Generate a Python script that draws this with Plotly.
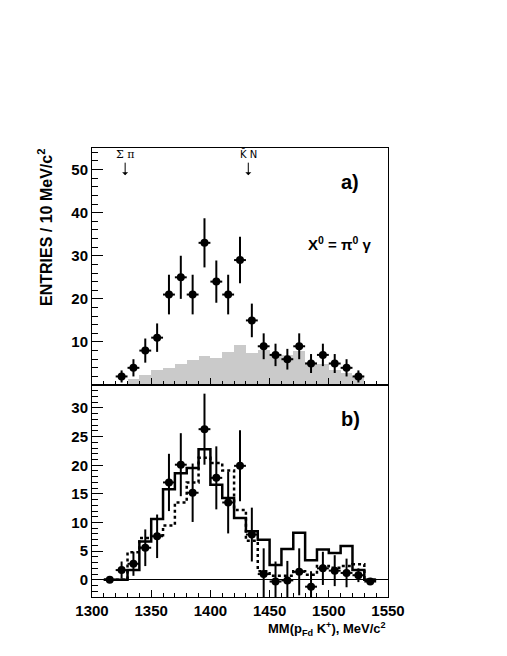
import plotly.graph_objects as go

# ---- panel a) : X0 = pi0 gamma ----
a_x = [1325, 1335, 1345, 1355, 1365, 1375, 1385, 1395, 1405, 1415, 1425,
       1435, 1445, 1455, 1465, 1475, 1485, 1495, 1505, 1515, 1525]
a_y = [2, 4, 8, 11, 21, 25, 21, 33, 24, 21, 29,
       15, 9, 7, 6, 9, 5, 7, 5, 4, 2]
a_err = [1.4, 2.0, 2.8, 3.3, 4.6, 5.0, 4.6, 5.7, 4.9, 4.6, 5.4,
         3.9, 3.0, 2.6, 2.4, 3.0, 2.2, 2.6, 2.2, 2.0, 1.4]

# gray background histogram, 10 MeV bins
bg_x = [1335, 1345, 1355, 1365, 1375, 1385, 1395, 1405, 1415, 1425,
        1435, 1445, 1455, 1465, 1475, 1485, 1495, 1505, 1515, 1525]
bg_y = [1.3, 2.3, 3.5, 4.0, 5.0, 5.8, 6.7, 6.3, 7.6, 9.2,
        7.4, 8.2, 7.0, 7.0, 7.8, 5.4, 5.0, 3.6, 2.9, 1.9]

# ---- panel b) ----
b_x = [1315, 1325, 1335, 1345, 1355, 1365, 1375, 1385, 1395, 1405, 1415, 1425,
       1435, 1445, 1455, 1465, 1475, 1485, 1495, 1505, 1515, 1525, 1535]
b_y = [0.0, 1.7, 2.8, 5.6, 7.6, 17.0, 20.1, 15.2, 26.3, 17.8, 13.5, 19.9,
       7.9, 1.0, -0.3, -0.1, 1.4, -1.2, 2.0, 1.6, 1.2, 0.8, -0.3]
b_err = [0.0, 1.5, 2.1, 3.2, 3.8, 5.0, 5.5, 5.1, 6.2, 5.5, 5.4, 6.2,
         4.7, 4.5, 3.5, 3.4, 4.1, 2.7, 2.9, 2.7, 2.5, 1.2, 0.3]

# histograms from 1310 to 1540 in 10 MeV bins
hist_start = 1310
solid_y = [0, 0, 1.7, 6.7, 10.6, 15.8, 18.6, 19.5, 22.8, 16.6, 14.3, 10.8,
           8.5, 7.0, 2.6, 5.4, 8.2, 3.4, 5.3, 4.7, 5.9, 1.7, 0]
dotted_y = [0, 0, 4.8, 7.3, 7.8, 9.5, 13.5, 17.0, 21.3, 20.4, 19.1, 12.2,
            6.8, 1.5, 0.7, 0.7, 1.5, 0.9, 2.4, 2.1, 2.4, 2.7, 0]

a_ticks = [10, 20, 30, 40, 50]
b_ticks = [0, 5, 10, 15, 20, 25, 30]

FONT = "Liberation Sans, Arial, sans-serif"
edges = [hist_start + 10 * i for i in range(len(solid_y) + 1)]

fig = go.Figure()

fig.add_trace(go.Bar(
    x=bg_x, y=bg_y, width=10,
    marker=dict(color='#cacaca', line=dict(width=0)),
    xaxis='x', yaxis='y', showlegend=False
))

point_style = dict(
    mode='markers',
    marker=dict(size=8, color='black'),
    showlegend=False
)

fig.add_trace(go.Scatter(
    x=a_x, y=a_y,
    error_y=dict(type='data', array=a_err, thickness=2, width=0, color='black'),
    error_x=dict(type='constant', value=5, thickness=2, width=0, color='black'),
    xaxis='x', yaxis='y', **point_style
))

fig.add_trace(go.Scatter(
    x=edges, y=solid_y + [solid_y[-1]], mode='lines', line_shape='hv',
    line=dict(color='black', width=2.5),
    xaxis='x2', yaxis='y2', showlegend=False
))
fig.add_trace(go.Scatter(
    x=edges, y=dotted_y + [dotted_y[-1]], mode='lines', line_shape='hv',
    line=dict(color='black', width=2.5, dash='dot'),
    xaxis='x2', yaxis='y2', showlegend=False
))
fig.add_trace(go.Scatter(
    x=b_x, y=b_y,
    error_y=dict(type='data', array=b_err, thickness=2, width=0, color='black'),
    error_x=dict(type='constant', value=5, thickness=2, width=0, color='black'),
    xaxis='x2', yaxis='y2', **point_style
))

tick_font = dict(family=FONT, size=15, color='black', weight='bold')
common_axis = dict(
    showline=True, linecolor='black', linewidth=1, mirror=True,
    showgrid=False, ticks='inside', tickcolor='black', tickwidth=1,
)

# page body has an 8px margin, so the figure is 8px smaller than the window
fig.update_layout(
    width=499, height=648,
    margin=dict(l=84, r=119, t=140, b=59),
    paper_bgcolor='white', plot_bgcolor='white',
    font=dict(family=FONT, color='black'),
    bargap=0,
    xaxis=dict(
        domain=[0, 1], anchor='y', range=[1300, 1550], dtick=50, ticklen=7,
        showticklabels=False, zeroline=False,
        minor=dict(dtick=10, ticks='inside', ticklen=4, tickcolor='black'),
        **common_axis
    ),
    yaxis=dict(
        domain=[0.472, 1], anchor='x', range=[0, 55], tickvals=a_ticks, ticklen=11,
        tickfont=tick_font, zeroline=False,
        minor=dict(dtick=2, ticks='inside', ticklen=6, tickcolor='black'),
        **common_axis
    ),
    xaxis2=dict(
        domain=[0, 1], anchor='y2', range=[1300, 1550], dtick=50, ticklen=7,
        tickfont=tick_font, zeroline=False,
        minor=dict(dtick=10, ticks='inside', ticklen=4, tickcolor='black'),
        **common_axis
    ),
    yaxis2=dict(
        domain=[0, 0.472], anchor='x2', range=[-3, 34], tickvals=b_ticks, ticklen=11,
        tickfont=tick_font, zeroline=True, zerolinecolor='black', zerolinewidth=1,
        minor=dict(dtick=1, ticks='inside', ticklen=6, tickcolor='black'),
        **common_axis
    ),
)

annotations = [
    dict(text="<b>a)</b>", x=1518, y=47.2, xref='x', yref='y', showarrow=False,
         font=dict(size=20)),
    dict(text="<b>X<sup>0</sup> = π<sup>0</sup> γ</b>", x=1509, y=32.9, xref='x', yref='y',
         showarrow=False, font=dict(size=15)),
    dict(text="<b>b)</b>", x=1518, y=28.0, xref='x2', yref='y2', showarrow=False,
         font=dict(size=20)),
    dict(text="Σ π", x=1328, y=53.6, xref='x', yref='y', showarrow=False,
         font=dict(size=11, family="DejaVu Serif, serif")),
    dict(text="K\u0304 N", x=1432, y=53.6, xref='x', yref='y', showarrow=False,
         font=dict(size=10, family="DejaVu Sans, sans-serif")),
    dict(text="", x=1328, y=48.7, xref='x', yref='y', ax=0, ay=-14, showarrow=True,
         arrowhead=1, arrowsize=1, arrowwidth=1, arrowcolor='black'),
    dict(text="", x=1432, y=48.7, xref='x', yref='y', ax=0, ay=-14, showarrow=True,
         arrowhead=1, arrowsize=1, arrowwidth=1, arrowcolor='black'),
    dict(text="<b>ENTRIES / 10 MeV/c<sup>2</sup></b>", x=-0.159, y=0.824,
         xref='paper', yref='paper', xanchor='center', yanchor='middle',
         textangle=-90, showarrow=False, font=dict(size=16)),
    dict(text="<b>MM(p<sub>Fd</sub> K<sup>+</sup>), MeV/c<sup>2</sup></b>", x=1.0, y=-0.071,
         xref='paper', yref='paper', xanchor='right', yanchor='middle', showarrow=False,
         font=dict(size=13)),
]
fig.update_layout(annotations=annotations)

fig.write_html("out.html")
